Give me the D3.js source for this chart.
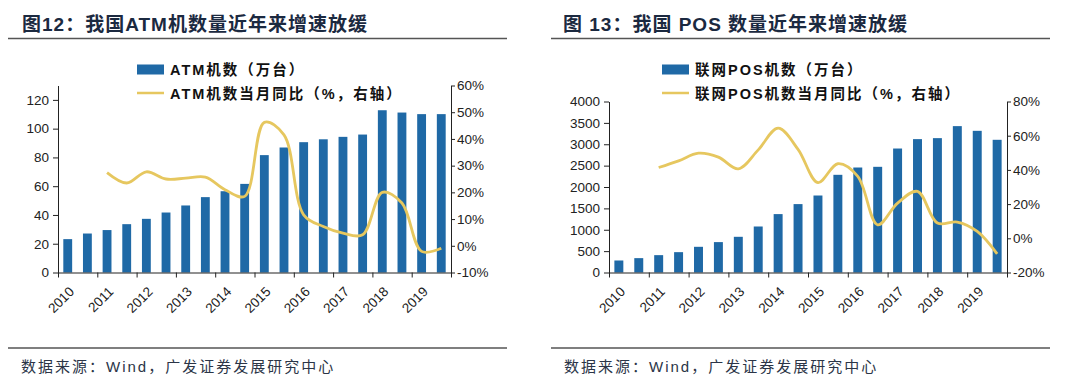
<!DOCTYPE html>
<meta charset="utf-8">
<style>
body { margin: 0; background: #fff; }
svg text { font-family: "Liberation Sans", Arial, "Noto Sans CJK SC", sans-serif; }
.title { font-size: 19px; font-weight: bold; fill: #1b2940; letter-spacing: 1px; }
.source { font-size: 15px; fill: #2b3547; letter-spacing: 2px; }
.leg { font-size: 14.5px; font-weight: bold; fill: #111; letter-spacing: 2px; }
.axis text { font-size: 13.5px; fill: #222; }
.axis path, .axis line { stroke: #222; }
</style>
<svg width="1080" height="387"></svg>
<script src="https://d3js.org/d3.v7.min.js"></script>
<script>
// half-year periods, 2010H1 .. 2019H2
var periods = d3.range(20).map(function(i) { return (2010 + Math.floor(i / 2)) + "H" + (i % 2 + 1); });
var years = d3.range(2010, 2020).map(String);

var atmCount = [23.2, 27.1, 29.5, 33.6, 37.3, 41.7, 46.6, 52.4, 56.5, 61.6,
                81.6, 86.9, 90.6, 92.6, 94.3, 95.9, 112.8, 111.2, 110.1, 110.1];
var atmYoy = [null, null, 27.4, 23.5, 27.7, 25.0, 25.3, 25.7, 21.0, 18.5,
              46.2, 41.5, 11.6, 7.2, 4.7, 4.1, 20.0, 16.0, -2.1, -0.9];

var posCount = [281, 336, 406, 476, 601, 711, 835, 1076, 1366, 1600,
                1801, 2285, 2456, 2472, 2900, 3120, 3143, 3424, 3314, 3104];
var posYoy = [null, null, 41.4, 45.3, 49.8, 47.5, 40.6, 51.7, 64.4, 52.0,
              32.6, 43.6, 36.2, 7.9, 20.6, 27.4, 8.9, 9.5, 4.0, -9.1];

var barColor = "#1f69a6", lineColor = "#e6c75f";
var svg = d3.select("svg");

function panel(o) {
  var g = svg.append("g").attr("transform", "translate(" + o.dx + ",0)");

  g.append("text").attr("class", "title").attr("x", o.titleX).attr("y", 31).text(o.title);
  g.append("line").attr("x1", 8).attr("x2", 507).attr("y1", 38.5).attr("y2", 38.5)
    .attr("stroke", "#555").attr("stroke-width", 1.5);
  g.append("line").attr("x1", 8).attr("x2", 507).attr("y1", 348).attr("y2", 348)
    .attr("stroke", "#555").attr("stroke-width", 1.5);
  g.append("text").attr("class", "source").attr("x", 21).attr("y", 372).text("数据来源：Wind，广发证券发展研究中心");

  var x = d3.scaleBand().domain(periods).range([o.x0, o.x1]).paddingInner(0.55).paddingOuter(0.27);
  var yL = d3.scaleLinear().domain(o.leftDomain).range([272.5, o.top]);
  var yR = d3.scaleLinear().domain(o.rightDomain).range([272.5, o.top]);

  // bars
  g.selectAll(".bar").data(o.bars).enter().append("rect")
    .attr("x", function(d, i) { return x(periods[i]); })
    .attr("width", x.bandwidth())
    .attr("y", function(d) { return yL(d); })
    .attr("height", function(d) { return yL(0) - yL(d); })
    .attr("fill", barColor);

  // line
  var pts = o.line.map(function(d, i) { return [x(periods[i]) + x.bandwidth() / 2, d]; })
    .filter(function(p) { return p[1] !== null; });
  g.append("path")
    .attr("d", d3.line().x(function(p) { return p[0]; }).y(function(p) { return yR(p[1]); })
      .curve(d3.curveCatmullRom.alpha(0.5))(pts))
    .attr("fill", "none").attr("stroke", lineColor).attr("stroke-width", 2.8);

  // left axis
  g.append("g").attr("class", "axis").attr("transform", "translate(" + o.x0 + ",0)")
    .call(d3.axisLeft(yL).tickValues(o.leftTicks).tickSize(5).tickSizeOuter(0).tickPadding(4)
      .tickFormat(d3.format("d")));
  // right axis
  g.append("g").attr("class", "axis").attr("transform", "translate(" + o.x1 + ",0)")
    .call(d3.axisRight(yR).tickValues(o.rightTicks).tickSize(4).tickSizeOuter(0).tickPadding(2)
      .tickFormat(function(d) { return d + "%"; }));
  // x axis (year boundaries)
  var xy = d3.scaleLinear().domain([0, 10]).range([o.x0, o.x1]);
  var xa = g.append("g").attr("class", "axis").attr("transform", "translate(0," + yL(0) + ")")
    .call(d3.axisBottom(xy).tickValues(d3.range(11)).tickSize(5).tickSizeOuter(0).tickFormat(""));
  xa.selectAll(".ylab").data(years).enter().append("text")
    .attr("class", "ylab")
    .attr("text-anchor", "end")
    .attr("transform", function(d, i) { return "translate(" + (xy(i) + 17) + ",20) rotate(-45)"; })
    .text(function(d) { return d; });

  // legend
  var lg = g.append("g").attr("transform", "translate(" + o.legX + ",0)");
  lg.append("rect").attr("x", 0).attr("y", 64.5).attr("width", 27).attr("height", 10).attr("fill", barColor);
  lg.append("text").attr("class", "leg").attr("x", 33).attr("y", 75).text(o.leg1);
  lg.append("line").attr("x1", 0).attr("x2", 27).attr("y1", 93).attr("y2", 93)
    .attr("stroke", lineColor).attr("stroke-width", 2.5);
  lg.append("text").attr("class", "leg").attr("x", 33).attr("y", 98.5).text(o.leg2);
}

panel({
  dx: 0, titleX: 22, title: "图12：我国ATM机数量近年来增速放缓",
  x0: 58, x1: 451, top: 85.5,
  bars: atmCount, line: atmYoy,
  leftDomain: [0, 130], leftTicks: d3.range(0, 121, 20),
  rightDomain: [-10, 60], rightTicks: d3.range(-10, 61, 10),
  legX: 137, leg1: "ATM机数（万台）", leg2: "ATM机数当月同比（%，右轴）"
});

panel({
  dx: 543, titleX: 20, title: "图 13：我国 POS 数量近年来增速放缓",
  x0: 66, x1: 464, top: 101.5,
  bars: posCount, line: posYoy,
  leftDomain: [0, 4000], leftTicks: d3.range(0, 4001, 500),
  rightDomain: [-20, 80], rightTicks: d3.range(-20, 81, 20),
  legX: 119, leg1: "联网POS机数（万台）", leg2: "联网POS机数当月同比（%，右轴）"
});
</script>
